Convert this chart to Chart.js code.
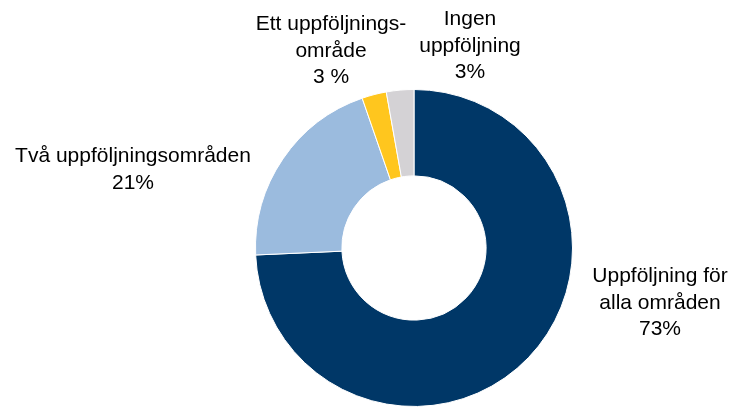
<!DOCTYPE html>
<html>
<head>
<meta charset="utf-8">
<script src="https://cdn.jsdelivr.net/npm/chart.js@4/dist/chart.umd.min.js"></script>
<style>
  html, body { margin: 0; padding: 0; background: #fff; }
  #wrap { width: 736px; height: 410px; position: relative; }
</style>
</head>
<body>
<div id="wrap"><canvas id="donut"></canvas></div>
<script>
// categories (label lines) and slice values
var categories = [
    ["Uppföljning för", "alla områden"],
    ["Två uppföljningsområden"],
    ["Ett uppföljnings-", "område"],
    ["Ingen", "uppföljning"]
];
var values = [74.3, 20.4, 2.5, 2.8];
var pctLabels = ["73%", "21%", "3 %", "3%"];

var colors = ["#003767", "#9bbbde", "#ffc61e", "#d4d2d5"];

// where each label text block is centred (x) and where its first baseline is (y)
var labelPos = [
    { x: 660, y: 282 },
    { x: 133, y: 162 },
    { x: 331, y: 30 },
    { x: 470, y: 25 }
];

var outsideLabels = {
    id: 'outsideLabels',
    afterDraw: function (chart) {
        var ctx = chart.ctx;
        ctx.save();
        ctx.fillStyle = "#000";
        ctx.font = "21px 'Liberation Sans', Arial, sans-serif";
        ctx.textAlign = "center";
        ctx.textBaseline = "alphabetic";
        for (var i = 0; i < categories.length; i++) {
            var lines = categories[i].concat([pctLabels[i]]);
            var lh = 26.5;
            for (var j = 0; j < lines.length; j++) {
                ctx.fillText(lines[j], labelPos[i].x, labelPos[i].y + j * lh);
            }
        }
        ctx.restore();
    }
};

var ctx = document.getElementById('donut').getContext('2d');

var chart = new Chart(ctx, {
    type: 'doughnut',
    data: {
        labels: categories.map(function (c) { return c.join(" "); }),
        datasets: [{
            data: values,
            backgroundColor: colors,
            borderColor: "#ffffff",
            borderWidth: 1
        }]
    },
    options: {
        responsive: true,
        maintainAspectRatio: false,
        animation: false,
        cutout: '45.5%',
        layout: {
            padding: { left: 255, right: 163, top: 89, bottom: 3 }
        },
        plugins: {
            legend: { display: false },
            tooltip: { enabled: false }
        }
    },
    plugins: [outsideLabels]
});
</script>
</body>
</html>
